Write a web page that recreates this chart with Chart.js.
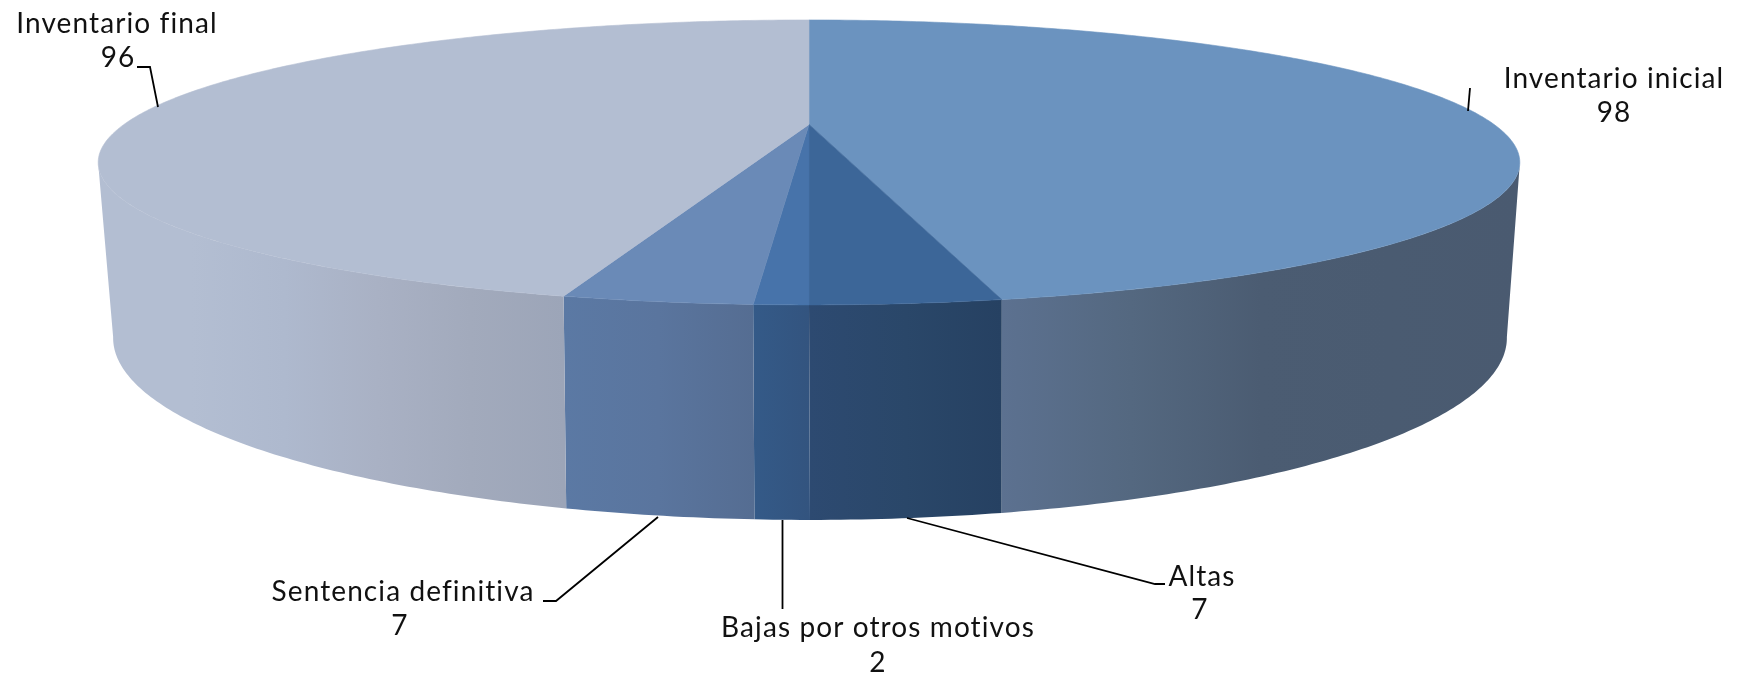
<!DOCTYPE html>
<html>
<head>
<meta charset="utf-8">
<style>
  html, body { margin: 0; background: #fff; }
  #chart { display: block; }
</style>
<script src="https://cdn.jsdelivr.net/npm/chart.js@4"></script>
</head>
<body>
<canvas id="chart" width="1742" height="676"></canvas>
<script>
const categories = ["Inventario inicial", "Altas", "Bajas por otros motivos", "Sentencia definitiva", "Inventario final"];
const values = [98, 7, 2, 7, 96];

const topColors = ["#6b93bf", "#3c6698", "#4773aa", "#6a8ab7", "#b3bed2"];
const sideColors = [
  ["#5c7190", "#546880", "#4b5c72", "#4a5b71", "#4a5a70"],
  ["#2d4a71", "#2a4769", "#264162"],
  ["#345a88", "#33547f"],
  ["#5b79a4", "#5a759e", "#556d92"],
  ["#b3bed2", "#b3bed2", "#aeb9ce", "#a9b1c4", "#a2aabc", "#9ca5b8"],
];

// label placement: text centre, baselines and the leader line
const nameX = [1614, 1202, 878, 403, 117];
const nameY = [88, 586, 637, 601, 33];
const valueX = [1614, 1200, 878, 400, 118];
const valueY = [122, 619, 672, 635, 67];
const leaders = [
  [[1470, 88], [1468, 111]],
  [[907, 518], [1155, 584], [1165, 584]],
  [[782.5, 520], [782.5, 609]],
  [[658, 517], [556, 601], [543, 601]],
  [[137, 67], [150, 67], [158, 107]],
];

// two perspective discs, the top face and the bottom rim
const topDisc = { cx: 809, cy: 124.4, rx: 685, ry: 132.3, k: 0.267 };
const bottomDisc = { cx: 810, cy: 287, rx: 669, ry: 167.7, k: 0.28 };
const sideLimit = 16 * Math.PI / 180;

function project(disc, angle) {
  const u = Math.cos(angle);
  const v = Math.sin(angle);
  const w = 1 - disc.k * v;
  return [disc.cx + disc.rx * u / w, disc.cy + disc.ry * v / w];
}

function traceArc(ctx, disc, from, to) {
  const steps = Math.max(2, Math.ceil(Math.abs(to - from) * 90));
  for (let i = 0; i <= steps; i++) {
    const p = project(disc, from + (to - from) * i / steps);
    ctx.lineTo(p[0], p[1]);
  }
}

function drawSide(ctx, arc, colors) {
  const a0 = Math.max(arc.startAngle, sideLimit);
  const a1 = Math.min(arc.endAngle, Math.PI - sideLimit);
  if (a1 <= a0) return;
  const xs = [project(topDisc, a0)[0], project(topDisc, a1)[0]];
  const grad = ctx.createLinearGradient(Math.min(...xs), 0, Math.max(...xs), 0);
  colors.forEach((c, i) => grad.addColorStop(i / (colors.length - 1), c));
  ctx.beginPath();
  traceArc(ctx, topDisc, a0, a1);
  traceArc(ctx, bottomDisc, a1, a0);
  ctx.closePath();
  ctx.fillStyle = grad;
  ctx.fill();
}

function drawTop(ctx, arc, color) {
  ctx.beginPath();
  ctx.moveTo(topDisc.cx, topDisc.cy);
  traceArc(ctx, topDisc, arc.startAngle, arc.endAngle);
  ctx.closePath();
  ctx.fillStyle = color;
  ctx.strokeStyle = color;
  ctx.lineWidth = 0.6;
  ctx.fill();
  ctx.stroke();
}

function drawLabels(ctx) {
  ctx.font = '400 28px Lato';
  ctx.letterSpacing = "1.1px";
  ctx.fillStyle = "#111";
  ctx.textAlign = "center";
  ctx.textBaseline = "alphabetic";
  categories.forEach((name, i) => {
    ctx.fillText(name, nameX[i], nameY[i]);
    ctx.fillText(String(values[i]), valueX[i], valueY[i]);
    ctx.beginPath();
    leaders[i].forEach(p => ctx.lineTo(p[0], p[1]));
    ctx.strokeStyle = "#000";
    ctx.lineWidth = 1.8;
    ctx.stroke();
  });
}

const pie3d = {
  id: "pie3d",
  beforeDatasetsDraw(chart) {
    const ctx = chart.ctx;
    const arcs = chart.getDatasetMeta(0).data;
    ctx.save();
    arcs.forEach((arc, i) => drawSide(ctx, arc, sideColors[i]));
    arcs.forEach((arc, i) => drawTop(ctx, arc, topColors[i]));
    drawLabels(ctx);
    ctx.restore();
    return false; // flat pie is replaced by the tilted one
  },
};

new Chart(document.getElementById("chart"), {
  type: "pie",
  data: {
    labels: categories,
    datasets: [{ data: values, backgroundColor: topColors, borderWidth: 0 }],
  },
  options: {
    responsive: false,
    animation: false,
    plugins: { legend: { display: false }, tooltip: { enabled: false } },
  },
  plugins: [pie3d],
});
</script>
</body>
</html>
